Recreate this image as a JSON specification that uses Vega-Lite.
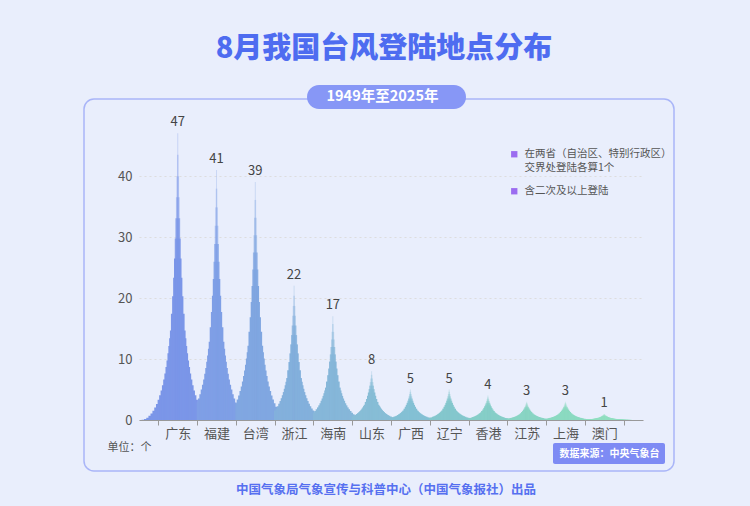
{
  "$schema": "https://vega.github.io/schema/vega-lite/v6.json",
  "width": 590,
  "height": 372,
  "autosize": {"type": "none"},
  "padding": {"left": 84, "top": 99, "right": 76, "bottom": 35},
  "background": "#e9eefc",
  "title": {
    "text": "8月我国台风登陆地点分布",
    "fontSize": 29,
    "fontWeight": 900,
    "color": "#4e6cf0",
    "anchor": "middle",
    "offset": 21,
    "dx": 5
  },
  "data": {
    "values": [
      {"region": "广东", "count": 47},
      {"region": "福建", "count": 41},
      {"region": "台湾", "count": 39},
      {"region": "浙江", "count": 22},
      {"region": "海南", "count": 17},
      {"region": "山东", "count": 8},
      {"region": "广西", "count": 5},
      {"region": "辽宁", "count": 5},
      {"region": "香港", "count": 4},
      {"region": "江苏", "count": 3},
      {"region": "上海", "count": 3},
      {"region": "澳门", "count": 1}
    ]
  },
  "layer": [
    {
      "encoding": {
        "x": {
          "field": "region",
          "type": "nominal",
          "sort": null,
          "scale": {"range": [55, 559], "paddingInner": 0, "paddingOuter": 0.5},
          "axis": {
            "title": "中国气象局气象宣传与科普中心（中国气象报社）出品",
            "offset": -51,
            "labelAngle": 0,
            "labelFontSize": 13,
            "labelColor": "#555555",
            "labelPadding": 2,
            "tickBand": "extent",
            "tickSize": 5,
            "tickColor": "#999999",
            "domainColor": "#999999",
            "titleColor": "#5670f0",
            "titleFontSize": 12.5,
            "titleFontWeight": "bold",
            "titleX": 301.5,
            "titleY": 69,
            "titleBaseline": "middle",
            "grid": false
          }
        },
        "color": {
          "field": "region",
          "type": "nominal",
          "sort": null,
          "legend": null,
          "scale": {
            "domain": ["广东", "福建", "台湾", "浙江", "海南", "山东", "广西", "辽宁", "香港", "江苏", "上海", "澳门"],
            "range": ["#7b96e8", "#7f9fe6", "#80a7e1", "#83b0dc", "#86b7d9", "#87bdd6", "#84c0d4", "#84c7cd", "#86cec8", "#89d5c4", "#8bdac1", "#90dfc0"]
          }
        }
      },
      "layer": [
        {"mark": {"type": "bar", "width": {"band": 1.8665}}, "encoding": {"y": {"field": "count", "type": "quantitative", "axis": null, "scale": {"domain": [0, 50538], "range": [321, 34.3], "nice": false}}}},
        {"mark": {"type": "bar", "width": {"band": 1.7426}}, "encoding": {"y": {"field": "count", "type": "quantitative", "axis": null, "scale": {"domain": [0, 12703], "range": [321, 34.3], "nice": false}}}},
        {"mark": {"type": "bar", "width": {"band": 1.6249}}, "encoding": {"y": {"field": "count", "type": "quantitative", "axis": null, "scale": {"domain": [0, 5711], "range": [321, 34.3], "nice": false}}}},
        {"mark": {"type": "bar", "width": {"band": 1.5134}}, "encoding": {"y": {"field": "count", "type": "quantitative", "axis": null, "scale": {"domain": [0, 3241], "range": [321, 34.3], "nice": false}}}},
        {"mark": {"type": "bar", "width": {"band": 1.4077}}, "encoding": {"y": {"field": "count", "type": "quantitative", "axis": null, "scale": {"domain": [0, 2092.6], "range": [321, 34.3], "nice": false}}}},
        {"mark": {"type": "bar", "width": {"band": 1.3077}}, "encoding": {"y": {"field": "count", "type": "quantitative", "axis": null, "scale": {"domain": [0, 1464.2], "range": [321, 34.3], "nice": false}}}},
        {"mark": {"type": "bar", "width": {"band": 1.2132}}, "encoding": {"y": {"field": "count", "type": "quantitative", "axis": null, "scale": {"domain": [0, 1086.5], "range": [321, 34.3], "nice": false}}}},
        {"mark": {"type": "bar", "width": {"band": 1.1241}}, "encoding": {"y": {"field": "count", "type": "quantitative", "axis": null, "scale": {"domain": [0, 839.3], "range": [321, 34.3], "nice": false}}}},
        {"mark": {"type": "bar", "width": {"band": 1.0401}}, "encoding": {"y": {"field": "count", "type": "quantitative", "axis": null, "scale": {"domain": [0, 669.1], "range": [321, 34.3], "nice": false}}}},
        {"mark": {"type": "bar", "width": {"band": 0.961}}, "encoding": {"y": {"field": "count", "type": "quantitative", "axis": null, "scale": {"domain": [0, 547.1], "range": [321, 34.3], "nice": false}}}},
        {"mark": {"type": "bar", "width": {"band": 0.8868}}, "encoding": {"y": {"field": "count", "type": "quantitative", "axis": null, "scale": {"domain": [0, 456.1], "range": [321, 34.3], "nice": false}}}},
        {"mark": {"type": "bar", "width": {"band": 0.8173}}, "encoding": {"y": {"field": "count", "type": "quantitative", "axis": null, "scale": {"domain": [0, 386.8], "range": [321, 34.3], "nice": false}}}},
        {"mark": {"type": "bar", "width": {"band": 0.7521}}, "encoding": {"y": {"field": "count", "type": "quantitative", "axis": null, "scale": {"domain": [0, 332.7], "range": [321, 34.3], "nice": false}}}},
        {"mark": {"type": "bar", "width": {"band": 0.6912}}, "encoding": {"y": {"field": "count", "type": "quantitative", "axis": null, "scale": {"domain": [0, 289.6], "range": [321, 34.3], "nice": false}}}},
        {"mark": {"type": "bar", "width": {"band": 0.6344}}, "encoding": {"y": {"field": "count", "type": "quantitative", "axis": null, "scale": {"domain": [0, 254.6], "range": [321, 34.3], "nice": false}}}},
        {"mark": {"type": "bar", "width": {"band": 0.5814}}, "encoding": {"y": {"field": "count", "type": "quantitative", "axis": null, "scale": {"domain": [0, 226], "range": [321, 34.3], "nice": false}}}},
        {"mark": {"type": "bar", "width": {"band": 0.5321}}, "encoding": {"y": {"field": "count", "type": "quantitative", "axis": null, "scale": {"domain": [0, 202.1], "range": [321, 34.3], "nice": false}}}},
        {"mark": {"type": "bar", "width": {"band": 0.4864}}, "encoding": {"y": {"field": "count", "type": "quantitative", "axis": null, "scale": {"domain": [0, 182], "range": [321, 34.3], "nice": false}}}},
        {"mark": {"type": "bar", "width": {"band": 0.444}}, "encoding": {"y": {"field": "count", "type": "quantitative", "axis": null, "scale": {"domain": [0, 165], "range": [321, 34.3], "nice": false}}}},
        {"mark": {"type": "bar", "width": {"band": 0.4048}}, "encoding": {"y": {"field": "count", "type": "quantitative", "axis": null, "scale": {"domain": [0, 150.4], "range": [321, 34.3], "nice": false}}}},
        {"mark": {"type": "bar", "width": {"band": 0.3526}}, "encoding": {"y": {"field": "count", "type": "quantitative", "axis": null, "scale": {"domain": [0, 126.8], "range": [321, 34.3], "nice": false}}}},
        {"mark": {"type": "bar", "width": {"band": 0.2909}}, "encoding": {"y": {"field": "count", "type": "quantitative", "axis": null, "scale": {"domain": [0, 108.8], "range": [321, 34.3], "nice": false}}}},
        {"mark": {"type": "bar", "width": {"band": 0.2385}}, "encoding": {"y": {"field": "count", "type": "quantitative", "axis": null, "scale": {"domain": [0, 94.68], "range": [321, 34.3], "nice": false}}}},
        {"mark": {"type": "bar", "width": {"band": 0.1942}}, "encoding": {"y": {"field": "count", "type": "quantitative", "axis": null, "scale": {"domain": [0, 83.41], "range": [321, 34.3], "nice": false}}}},
        {"mark": {"type": "bar", "width": {"band": 0.1563}, "opacity": 0.8}, "encoding": {"y": {"field": "count", "type": "quantitative", "axis": null, "scale": {"domain": [0, 74.27], "range": [321, 34.3], "nice": false}}}},
        {"mark": {"type": "bar", "width": {"band": 0.1235}, "opacity": 0.7}, "encoding": {"y": {"field": "count", "type": "quantitative", "axis": null, "scale": {"domain": [0, 66.76], "range": [321, 34.3], "nice": false}}}},
        {"mark": {"type": "bar", "width": {"band": 0.0942}, "opacity": 0.45}, "encoding": {"y": {"field": "count", "type": "quantitative", "axis": null, "scale": {"domain": [0, 60.51], "range": [321, 34.3], "nice": false}}}},
        {"mark": {"type": "bar", "width": {"band": 0.0672}, "opacity": 0.4}, "encoding": {"y": {"field": "count", "type": "quantitative", "axis": null, "scale": {"domain": [0, 55.29], "range": [321, 34.3], "nice": false}}}},
        {"mark": {"type": "bar", "width": {"band": 0.0409}, "opacity": 0.35}, "encoding": {"y": {"field": "count", "type": "quantitative", "axis": null, "scale": {"domain": [0, 50.81], "range": [321, 34.3], "nice": false}}}},
        {"mark": {"type": "bar", "width": {"band": 0.025}, "opacity": 0.3}, "encoding": {"y": {"field": "count", "type": "quantitative", "axis": null, "scale": {"domain": [0, 47], "range": [321, 34.3], "nice": false}}}},
        {
          "mark": {"type": "text", "baseline": "bottom", "dy": -4, "fontSize": 13},
          "encoding": {
            "y": {
              "field": "count",
              "type": "quantitative",
              "scale": {"domain": [0, 47], "range": [321, 34.3], "nice": false},
              "axis": {
                "values": [0, 10, 20, 30, 40],
                "offset": -55,
                "domain": false,
                "ticks": false,
                "labelPadding": 7,
                "labelFontSize": 13,
                "labelColor": "#555555",
                "grid": true,
                "gridColor": "#dddddd",
                "gridDash": [2, 3],
                "title": "单位：个",
                "titleAngle": 0,
                "titleX": -32,
                "titleY": 348,
                "titleAlign": "left",
                "titleBaseline": "middle",
                "titleFontSize": 11,
                "titleFontWeight": "normal",
                "titleColor": "#555555"
              }
            },
            "text": {"field": "count", "type": "quantitative"},
            "color": {"value": "#444444"}
          }
        }
      ],
      "resolve": {"scale": {"y": "independent"}}
    },
    {
      "data": {"values": [{"note": "在两省（自治区、特别行政区）"}, {"note": "交界处登陆各算1个"}]},
      "mark": {"type": "square", "opacity": 0},
      "encoding": {
        "fill": {
          "field": "note",
          "type": "nominal",
          "sort": null,
          "scale": {"range": ["#9b6cf0", "rgba(0,0,0,0)"]},
          "legend": {
            "orient": "none",
            "legendX": 425,
            "legendY": 50,
            "title": null,
            "symbolType": "square",
            "symbolSize": 40,
            "symbolOpacity": 1,
            "labelFontSize": 10.5,
            "labelColor": "#555555",
            "labelLimit": 300,
            "labelOffset": 5,
            "rowPadding": 2.5
          }
        }
      }
    },
    {
      "data": {"values": [{"extra": "含二次及以上登陆"}]},
      "mark": {"type": "square", "opacity": 0, "fill": "#9b6cf0"},
      "encoding": {
        "stroke": {
          "field": "extra",
          "type": "nominal",
          "scale": {"range": ["#9b6cf0"]},
          "legend": {
            "orient": "none",
            "legendX": 425,
            "legendY": 87,
            "title": null,
            "symbolType": "square",
            "symbolSize": 40,
            "symbolOpacity": 1,
            "symbolFillColor": "#9b6cf0",
            "symbolStrokeWidth": 0,
            "labelFontSize": 10.5,
            "labelColor": "#555555",
            "labelLimit": 300,
            "labelOffset": 5
          }
        }
      }
    },
    {
      "data": {"values": [{"period": "1949年至2025年"}]},
      "mark": {"type": "point", "opacity": 0},
      "encoding": {
        "shape": {
          "field": "period",
          "type": "nominal",
          "legend": {
            "orient": "none",
            "legendX": 223,
            "legendY": -14,
            "title": null,
            "symbolSize": 0.01,
            "symbolStrokeWidth": 0,
            "symbolOpacity": 0,
            "labelOffset": 0,
            "labelFontSize": 14.5,
            "labelFontWeight": "bold",
            "labelColor": "#ffffff",
            "fillColor": "#8797f6",
            "cornerRadius": 12.5,
            "padding": 5,
            "labelExpr": "'\u2002\u2002\u2002' + datum.label + '\u2002\u2002\u2002\u200d'"
          }
        }
      }
    },
    {
      "data": {"values": [{"source": "数据来源：中央气象台"}]},
      "mark": {"type": "point", "opacity": 0},
      "encoding": {
        "strokeDash": {
          "field": "source",
          "type": "nominal",
          "legend": {
            "orient": "none",
            "legendX": 469,
            "legendY": 344,
            "title": null,
            "symbolSize": 0.01,
            "symbolStrokeWidth": 0,
            "symbolOpacity": 0,
            "labelOffset": -9,
            "labelFontSize": 10,
            "labelFontWeight": "bold",
            "labelColor": "#ffffff",
            "fillColor": "#7e8bf4",
            "cornerRadius": 2,
            "padding": 5.5,
            "labelExpr": "datum.label"
          }
        }
      }
    }
  ],
  "resolve": {"scale": {"y": "independent"}},
  "config": {
    "font": "Noto Sans CJK SC",
    "view": {"fill": "#ffffff", "stroke": "#a9b5f8", "strokeWidth": 1.5, "cornerRadius": 10}
  }
}
